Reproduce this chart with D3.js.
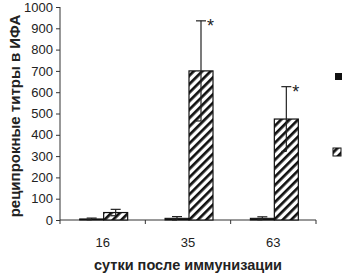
<!DOCTYPE html>
<html>
<head>
<meta charset="utf-8">
<script src="https://cdn.jsdelivr.net/npm/d3@7"></script>
<style>
  body { margin: 0; background: #fff; }
  svg { display: block; font-family: "Liberation Sans", Arial, sans-serif; }
</style>
</head>
<body>
<svg id="chart" width="345" height="274"></svg>
<script>
// days after immunisation
const days = ["16", "35", "63"];
// control group (dark bars) and immunised group (hatched bars)
const controlMean = [5, 8, 8];
const controlErr = [4, 8, 7];
const immuneMean = [35, 700, 474];
const immuneErr = [15, 235, 152];
const significant = [false, true, true];
const yTicks = [0, 100, 200, 300, 400, 500, 600, 700, 800, 900, 1000];

const svg = d3.select("#chart");
const plotLeft = 60, plotRight = 316, plotTop = 7, plotBottom = 220;

// hatch pattern for the immunised bars
const defs = svg.append("defs");
const pat = defs.append("pattern")
  .attr("id", "hatch")
  .attr("patternUnits", "userSpaceOnUse")
  .attr("width", 6).attr("height", 6)
  .attr("patternTransform", "rotate(45)");
pat.append("rect").attr("width", 6).attr("height", 6).attr("fill", "#fff");
pat.append("line")
  .attr("x1", 0).attr("y1", 0).attr("x2", 0).attr("y2", 6)
  .attr("stroke", "#111").attr("stroke-width", 5.4);

const x = d3.scaleBand().domain(days).range([plotLeft, plotRight]);
const y = d3.scaleLinear().domain([0, 1000]).range([plotBottom, plotTop]);
const barW = 24;

// y axis
const yAxis = svg.append("g")
  .attr("transform", `translate(${plotLeft},0)`)
  .call(d3.axisLeft(y).tickValues(yTicks).tickFormat(d3.format("d")).tickSize(4).tickPadding(3));
yAxis.selectAll("text").attr("font-size", 13).attr("fill", "#222");
yAxis.selectAll("line,path").attr("stroke", "#333");
yAxis.select(".domain").attr("d", `M0,${plotTop}V${plotBottom}`);

// x axis line with ticks at the band edges
const xa = svg.append("g");
xa.append("line")
  .attr("x1", plotLeft).attr("x2", plotRight)
  .attr("y1", plotBottom).attr("y2", plotBottom)
  .attr("stroke", "#333");
const edges = days.map(d => x(d)).concat([plotRight]);
xa.selectAll(".edge").data(edges).enter().append("line")
  .attr("x1", d => d).attr("x2", d => d)
  .attr("y1", plotBottom).attr("y2", plotBottom + 4)
  .attr("stroke", "#333");
xa.selectAll(".lbl").data(days).enter().append("text")
  .attr("x", d => x(d) + x.bandwidth() / 2)
  .attr("y", 247)
  .attr("text-anchor", "middle")
  .attr("font-size", 13)
  .attr("fill", "#222")
  .text(d => d);

const center = d => x(d) + x.bandwidth() / 2 + 1;

// control bars
svg.selectAll(".ctrl").data(days).enter().append("rect")
  .attr("x", d => center(d) - barW)
  .attr("y", (d, i) => y(controlMean[i]))
  .attr("width", barW)
  .attr("height", (d, i) => plotBottom - y(controlMean[i]))
  .attr("fill", "#111").attr("stroke", "#111");

// immunised bars
svg.selectAll(".imm").data(days).enter().append("rect")
  .attr("x", d => center(d))
  .attr("y", (d, i) => y(immuneMean[i]))
  .attr("width", barW)
  .attr("height", (d, i) => plotBottom - y(immuneMean[i]))
  .attr("fill", "url(#hatch)").attr("stroke", "#111").attr("stroke-width", 1.2);

// error bars
function errBars(means, errs, offset) {
  days.forEach((d, i) => {
    const cx = center(d) + offset;
    const hi = y(means[i] + errs[i]);
    const lo = y(Math.max(0, means[i] - errs[i]));
    svg.append("line").attr("x1", cx).attr("x2", cx).attr("y1", hi).attr("y2", lo)
      .attr("stroke", "#222").attr("stroke-width", 1.2);
    svg.append("line").attr("x1", cx - 5).attr("x2", cx + 5).attr("y1", hi).attr("y2", hi)
      .attr("stroke", "#222").attr("stroke-width", 1.2);
    svg.append("line").attr("x1", cx - 5).attr("x2", cx).attr("y1", lo).attr("y2", lo)
      .attr("stroke", "#222").attr("stroke-width", 1.2);
  });
}
errBars(controlMean, controlErr, -barW / 2);
errBars(immuneMean, immuneErr, barW / 2);

// significance stars
days.forEach((d, i) => {
  if (!significant[i]) return;
  svg.append("text")
    .attr("x", center(d) + barW / 2 + 6)
    .attr("y", y(immuneMean[i] + immuneErr[i]) + 11)
    .attr("font-size", 18)
    .attr("fill", "#222")
    .text("*");
});

// legend markers (cut off at the right edge)
svg.append("rect").attr("x", 335).attr("y", 73).attr("width", 7).attr("height", 7).attr("fill", "#111");
svg.append("rect").attr("x", 333).attr("y", 148).attr("width", 8).attr("height", 8)
  .attr("fill", "url(#hatch)").attr("stroke", "#111");

// axis titles
svg.append("text")
  .attr("transform", "translate(20,116) rotate(-90)")
  .attr("text-anchor", "middle")
  .attr("font-size", 15)
  .attr("font-weight", "bold")
  .attr("fill", "#222")
  .text("реципрокные титры в ИФА");
svg.append("text")
  .attr("x", 188).attr("y", 270)
  .attr("text-anchor", "middle")
  .attr("font-size", 14.5)
  .attr("font-weight", "bold")
  .attr("fill", "#222")
  .text("сутки после иммунизации");
</script>
</body>
</html>
